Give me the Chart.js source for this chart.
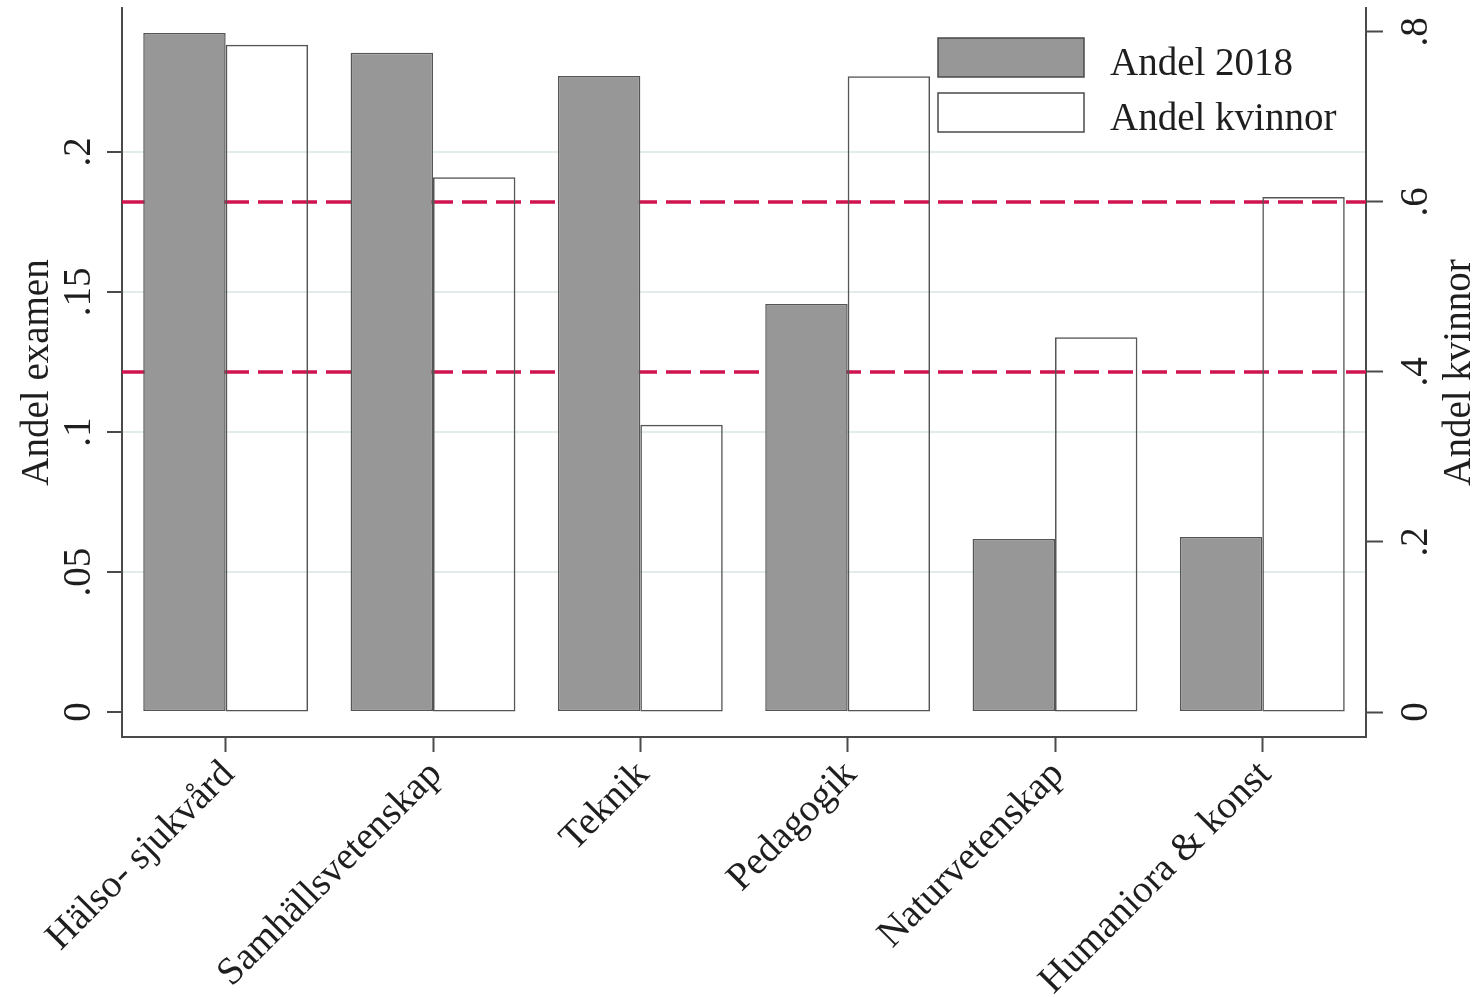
<!DOCTYPE html>
<html>
<head>
<meta charset="utf-8">
<script src="https://cdn.jsdelivr.net/npm/chart.js@4.4.1/dist/chart.umd.min.js"></script>
<style>
  html, body { margin: 0; padding: 0; background: #fff; }
</style>
</head>
<body>
<canvas id="examenChart" width="1479" height="997"></canvas>
<script>
// värden avlästa från originalbilden
const categories = ['Hälso- sjukvård', 'Samhällsvetenskap', 'Teknik', 'Pedagogik', 'Naturvetenskap', 'Humaniora & konst'];
const andel2018 = [0.2425, 0.2354, 0.2271, 0.1457, 0.0618, 0.0625];
const andelKvinnor = [0.785, 0.629, 0.338, 0.748, 0.441, 0.606];
const leftTicks = [0, 0.05, 0.1, 0.15, 0.2];
const leftTickLabels = ['0', '.05', '.1', '.15', '.2'];
const rightTicks = [0, 0.2, 0.4, 0.6, 0.8];
const rightTickLabels = ['0', '.2', '.4', '.6', '.8'];
const refLines = [0.4, 0.6]; // högra axeln

const serif = '"Liberation Serif", "Times New Roman", serif';
const txtColor = '#1e1e1e';
const axisColor = '#4a4a4a';
const gridColor = '#e3ecec';

// roterade etiketter på y-axlarna (som i Stata)
const yLabels = {
    id: 'yLabels',
    afterDraw(chart) {
        const c = chart.ctx;
        const a = chart.chartArea;
        const midY = (a.top + a.bottom) / 2;
        const yl = chart.scales.y, yr = chart.scales.y1;
        const draw = (text, x, y) => {
            c.save();
            c.translate(x, y);
            c.rotate(-Math.PI / 2);
            c.textAlign = 'center';
            c.textBaseline = 'alphabetic';
            c.fillText(text, 0, 0);
            c.restore();
        };
        c.save();
        c.font = '39px ' + serif;
        c.fillStyle = txtColor;
        leftTicks.forEach((v, i) => draw(leftTickLabels[i], yl.right - 32, yl.getPixelForValue(v)));
        rightTicks.forEach((v, i) => draw(rightTickLabels[i], yr.left + 61, yr.getPixelForValue(v)));
        draw('Andel examen', yl.left + 48, midY);
        draw('Andel kvinnor', yr.left + 104, midY);
        c.restore();
    }
};

// streckade linjer bakom staplarna
const refLinePlugin = {
    id: 'refLines',
    beforeDatasetsDraw(chart) {
        const c = chart.ctx, a = chart.chartArea, yr = chart.scales.y1;
        c.save();
        c.strokeStyle = '#cf1450';
        c.lineWidth = 3.5;
        c.setLineDash([25, 9]);
        refLines.forEach(v => {
            const y = yr.getPixelForValue(v);
            c.beginPath();
            c.moveTo(a.left, y);
            c.lineTo(a.right, y);
            c.stroke();
        });
        c.restore();
    }
};

// legend inne i ritytan, uppe till höger
const boxLegend = {
    id: 'boxLegend',
    afterDraw(chart) {
        const c = chart.ctx, a = chart.chartArea;
        const x0 = a.right - 428;
        c.save();
        c.font = '39px ' + serif;
        c.textAlign = 'left';
        c.textBaseline = 'alphabetic';
        chart.data.datasets.forEach((ds, i) => {
            const top = a.top + 30 + i * 55;
            c.fillStyle = ds.legendFill;
            c.fillRect(x0, top, 146, 39);
            c.strokeStyle = axisColor;
            c.lineWidth = 1.5;
            c.strokeRect(x0, top, 146, 39);
            c.fillStyle = txtColor;
            c.fillText(ds.label, x0 + 172, top + 37);
        });
        c.restore();
    }
};

new Chart(document.getElementById('examenChart'), {
    type: 'bar',
    data: {
        labels: categories,
        datasets: [{
            label: 'Andel 2018',
            data: andel2018,
            yAxisID: 'y',
            backgroundColor: '#979797',
            legendFill: '#979797',
            borderColor: '#555555',
            borderWidth: 1.5,
            borderSkipped: false
        }, {
            label: 'Andel kvinnor',
            data: andelKvinnor,
            yAxisID: 'y1',
            backgroundColor: 'rgba(255,255,255,0)',
            legendFill: '#ffffff',
            borderColor: '#555555',
            borderWidth: 1.5,
            borderSkipped: false
        }]
    },
    options: {
        responsive: false,
        animation: false,
        devicePixelRatio: 1,
        layout: { padding: { top: 8, left: 0, right: 0, bottom: 0 } },
        datasets: { bar: { barPercentage: 1, categoryPercentage: 0.795 } },
        plugins: { legend: { display: false }, tooltip: { enabled: false } },
        scales: {
            x: {
                offset: true,
                grid: { drawOnChartArea: false, drawTicks: true, tickLength: 15, offset: false, tickColor: axisColor, tickWidth: 2 },
                border: { display: true, color: axisColor, width: 2 },
                ticks: {
                    font: { family: serif, size: 39 },
                    color: txtColor,
                    minRotation: 45,
                    maxRotation: 45,
                    autoSkip: false,
                    padding: 0,
                    labelOffset: 3
                },
                afterFit(s) { s.height = 260; }
            },
            y: {
                position: 'left',
                min: -0.0089,
                max: 0.2514,
                afterBuildTicks(s) { s.ticks = leftTicks.map(v => ({ value: v })); },
                ticks: { display: false },
                grid: {
                    color: ctx => (ctx.tick && ctx.tick.value === 0) ? 'rgba(0,0,0,0)' : gridColor,
                    lineWidth: 2,
                    tickLength: 15,
                    tickColor: axisColor,
                    tickWidth: 2
                },
                border: { color: axisColor, width: 2 },
                afterFit(s) { s.width = 122; }
            },
            y1: {
                position: 'right',
                min: -0.0294,
                max: 0.8282,
                afterBuildTicks(s) { s.ticks = rightTicks.map(v => ({ value: v })); },
                ticks: { display: false },
                grid: { drawOnChartArea: false, tickLength: 17, tickColor: axisColor, tickWidth: 2 },
                border: { color: axisColor, width: 2 },
                afterFit(s) { s.width = 113; }
            }
        }
    },
    plugins: [refLinePlugin, yLabels, boxLegend]
});
</script>
</body>
</html>
